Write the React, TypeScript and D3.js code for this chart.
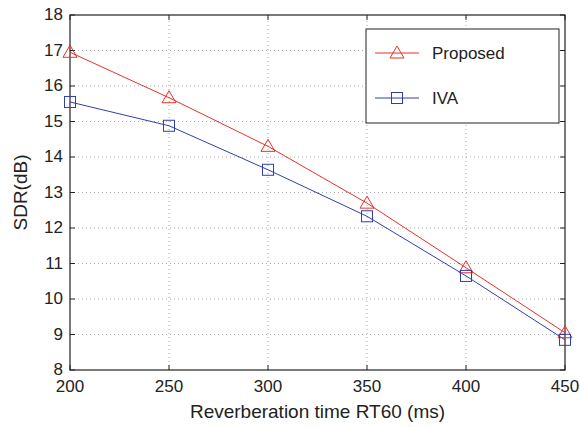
import React from "react";
import * as d3 from "d3";

const rt60 = [200, 250, 300, 350, 400, 450];
const proposed = [16.95, 15.67, 14.3, 12.7, 10.88, 9.05];
const iva = [15.55, 14.88, 13.64, 12.33, 10.65, 8.85];
const xTicks = [200, 250, 300, 350, 400, 450];
const yTicks = [8, 9, 10, 11, 12, 13, 14, 15, 16, 17, 18];

const W = 580, H = 427;
const m = { left: 70, right: 15, top: 15, bottom: 57 };

export default function App() {
  const x = d3.scaleLinear().domain([200, 450]).range([m.left, W - m.right]);
  const y = d3.scaleLinear().domain([8, 18]).range([H - m.bottom, m.top]);
  const line = d3.line<number>().x((_, i) => x(rt60[i])).y((d) => y(d));
  const font = "Liberation Sans, Arial, Helvetica, sans-serif";
  const x0 = x.range()[0], x1 = x.range()[1], y0 = y.range()[0], y1 = y.range()[1];
  const tri = (cx: number, cy: number, key: string) => (
    <path key={key} d={`M${cx},${cy - 7}L${cx + 7},${cy + 5}L${cx - 7},${cy + 5}Z`} fill="none" stroke="#e8312a" strokeWidth={1} />
  );
  const sq = (cx: number, cy: number, key: string) => (
    <rect key={key} x={cx - 5.5} y={cy - 5.5} width={11} height={11} fill="none" stroke="#2f3fae" strokeWidth={1} />
  );
  return (
    <svg width={W} height={H} style={{ position: "absolute", left: 0, top: 0, background: "#fff" }} fontFamily={font}>
      <rect width={W} height={H} fill="#fff" />
      {xTicks.slice(1, -1).map((t) => (
        <line key={"gx" + t} x1={x(t)} x2={x(t)} y1={y0} y2={y1} stroke="#aaa" strokeDasharray="1,3" />
      ))}
      {yTicks.slice(1, -1).map((t) => (
        <line key={"gy" + t} x1={x0} x2={x1} y1={y(t)} y2={y(t)} stroke="#aaa" strokeDasharray="1,3" />
      ))}
      {xTicks.map((t) => (
        <g key={"xt" + t}>
          <line x1={x(t)} x2={x(t)} y1={y0} y2={y0 - 5} stroke="#222" />
          <line x1={x(t)} x2={x(t)} y1={y1} y2={y1 + 5} stroke="#222" />
          <text x={x(t)} y={y0 + 21.5} textAnchor="middle" fontSize={17} fill="#222">{t}</text>
        </g>
      ))}
      {yTicks.map((t) => (
        <g key={"yt" + t}>
          <line x1={x0} x2={x0 + 5} y1={y(t)} y2={y(t)} stroke="#222" />
          <line x1={x1} x2={x1 - 5} y1={y(t)} y2={y(t)} stroke="#222" />
          <text x={x0 - 7} y={y(t) + 5} textAnchor="end" fontSize={17} fill="#222">{t}</text>
        </g>
      ))}
      <rect x={x0} y={y1} width={x1 - x0} height={y0 - y1} fill="none" stroke="#222" strokeWidth={1.2} />
      <path d={line(proposed) || ""} fill="none" stroke="#e8312a" strokeWidth={1} />
      <path d={line(iva) || ""} fill="none" stroke="#2f3fae" strokeWidth={1} />
      {proposed.map((v, i) => tri(x(rt60[i]), y(v), "p" + i))}
      {iva.map((v, i) => sq(x(rt60[i]), y(v), "v" + i))}
      <g>
        <rect x={366} y={29} width={193} height={94} fill="#fff" stroke="#222" strokeWidth={1} />
        <line x1={375} x2={419} y1={53} y2={53} stroke="#e8312a" />
        {tri(397, 53, "lt")}
        <text x={432} y={59} fontSize={17} fill="#222">Proposed</text>
        <line x1={375} x2={419} y1={98} y2={98} stroke="#2f3fae" />
        {sq(397, 98, "ls")}
        <text x={432} y={104} fontSize={17} fill="#222">IVA</text>
      </g>
      <text x={(x0 + x1) / 2} y={418} textAnchor="middle" fontSize={19} fill="#222">Reverberation time RT60 (ms)</text>
      <text transform={`translate(27,${(y0 + y1) / 2}) rotate(-90)`} textAnchor="middle" fontSize={19} fill="#222">SDR(dB)</text>
    </svg>
  );
}
